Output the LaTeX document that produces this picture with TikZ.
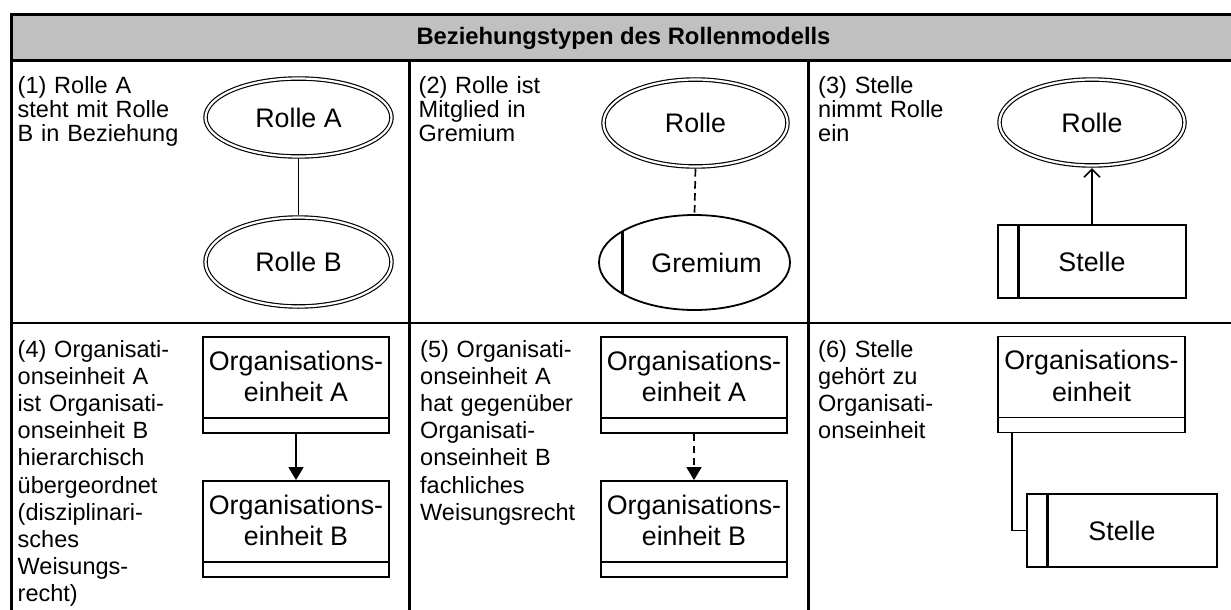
\documentclass[tikz,border=0pt]{standalone}
\usepackage{fontspec}
\setmainfont{Liberation Sans}
\usetikzlibrary{shapes.geometric,arrows.meta,calc}
\begin{document}
\begin{tikzpicture}[x=1pt,y=-1pt,
  frame/.style={line width=2.7pt},
  celltext/.style={anchor=base west, inner sep=0pt, text width=230pt, align=left,
    font=\fontsize{23.5}{23.7}\selectfont},
  celltextb/.style={celltext, font=\fontsize{23.5}{27.2}\selectfont},
  shapetext/.style={font=\fontsize{26.8}{31.5}\selectfont},
  rolle/.style={ellipse, draw, double, double distance=2.2pt, line width=1.15pt,
    inner sep=0pt, shapetext},
  gremium/.style={ellipse, draw, line width=1.8pt, inner sep=0pt,
    path picture={\draw[line width=2.2pt]
      ([xshift=23.5pt]path picture bounding box.north west) --
      ([xshift=23.5pt]path picture bounding box.south west);}},
  stellebox/.style={rectangle, draw, line width=1.8pt, inner sep=0pt,
    minimum height=73pt, shapetext,
    path picture={\draw[line width=2.2pt]
      ([xshift=20.5pt]path picture bounding box.north west) --
      ([xshift=20.5pt]path picture bounding box.south west);}},
  orgbox/.style={rectangle, draw, line width=1.8pt, inner sep=0pt,
    minimum width=186pt, minimum height=96pt,
    path picture={\draw[line width=1.8pt]
      ([yshift=15pt]path picture bounding box.south west) --
      ([yshift=15pt]path picture bounding box.south east);}},
  orgtext/.style={inner sep=0pt, align=center, shapetext},
  conn/.style={line width=1.7pt},
  dashconn/.style={conn, dash pattern=on 7.5pt off 4.5pt},
  hier/.style={-{Triangle[length=13pt,width=15pt]}},
  takes/.style={-{Straight Barb[length=8pt,width=16pt,line width=1.6pt]}}
]
\useasboundingbox (0,0) rectangle (1231,610);
\clip (0,0) rectangle (1231,610);

% table frame and header
\draw[frame, fill={rgb,255:red,192;green,192;blue,192}] (11.5,14.5) rectangle (1236,60.7);
\node[font=\bfseries\fontsize{23.8}{28}\selectfont] (title) at (623.5,38)
  {Beziehungstypen des Rollenmodells};
\draw[frame] (11.5,60.7) -- (11.5,625);
\draw[frame] (409.5,60.7) -- (409.5,625);
\draw[frame] (808.3,60.7) -- (808.3,625);
\draw[frame] (1236,60.7) -- (1236,625);
\draw[frame] (11.5,323) -- (1236,323);

% (1) Rolle A -- Rolle B
\node[celltext] (t1) at (17.5,93.7) {(1) Rolle A\\steht mit Rolle\\B in Beziehung};
\node[rolle, minimum width=186pt, minimum height=78pt] (ra) at (298.5,117.5) {Rolle A};
\node[rolle, minimum width=186pt, minimum height=89pt] (rb) at (298.5,262) {Rolle B};
\draw[conn, shorten <=2pt, shorten >=2pt] (ra.south) -- (rb.north);

% (2) Rolle -- Gremium
\node[celltext] (t2) at (418.5,93.7) {(2) Rolle ist\\Mitglied in\\Gremium};
\node[rolle, minimum width=184pt, minimum height=87pt] (r2) at (695.5,123) {Rolle};
\node[gremium, minimum width=191pt, minimum height=95pt] (g2) at (694.5,262.5) {};
\node[shapetext, inner sep=0pt] (g2t) at ([xshift=12pt]g2.center) {Gremium};
\draw[dashconn, shorten <=2pt] (r2.south) -- (g2.north);

% (3) Stelle -> Rolle
\node[celltext] (t3) at (818,93.7) {(3) Stelle\\nimmt Rolle\\ein};
\node[rolle, minimum width=185pt, minimum height=86pt] (r3) at (1092,122.5) {Rolle};
\node[stellebox, minimum width=188pt] (s3) at (1092,261.5) {Stelle};
\draw[conn, takes, shorten >=2pt] (s3.north) -- (r3.south);

% (4) hierarchical subordination
\node[celltextb] (t4) at (17.5,357)
  {(4) Organisati-\\onseinheit A\\ist Organisati-\\onseinheit B\\hierarchisch\\übergeordnet\\(disziplinari-\\sches\\Weisungs-\\recht)};
\node[orgbox] (o4a) at (296,385) {};
\node[orgtext] (o4at) at ([yshift=-40.5pt]o4a.north) {Organisations-\\einheit A};
\node[orgbox] (o4b) at (296,529) {};
\node[orgtext] (o4bt) at ([yshift=-40.5pt]o4b.north) {Organisations-\\einheit B};
\draw[conn, hier] (o4a.south) -- (o4b.north);

% (5) functional authority
\node[celltextb] (t5) at (420,357)
  {(5) Organisati-\\onseinheit A\\hat gegenüber\\Organisati-\\onseinheit B\\fachliches\\Weisungsrecht};
\node[orgbox] (o5a) at (694,385) {};
\node[orgtext] (o5at) at ([yshift=-40.5pt]o5a.north) {Organisations-\\einheit A};
\node[orgbox] (o5b) at (694,529) {};
\node[orgtext] (o5bt) at ([yshift=-40.5pt]o5b.north) {Organisations-\\einheit B};
\draw[dashconn, hier] (o5a.south) -- (o5b.north);

% (6) Stelle belongs to Organisationseinheit
\node[celltextb] (t6) at (818,357) {(6) Stelle\\gehört zu\\Organisati-\\onseinheit};
\node[orgbox, minimum width=187pt] (o6) at (1091.5,384.5) {};
\node[orgtext] (o6t) at ([yshift=-40.5pt]o6.north) {Organisations-\\einheit};
\node[stellebox, minimum width=190pt] (s6) at (1122,530.5) {Stelle};
\draw[conn] ([xshift=15pt]o6.south west) |- (s6.west);
\end{tikzpicture}
\end{document}
